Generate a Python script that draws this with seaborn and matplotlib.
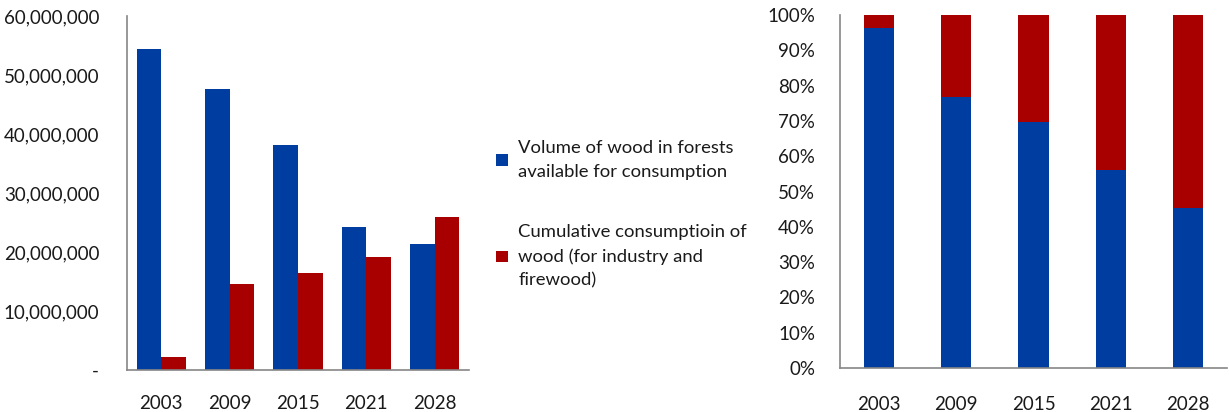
import numpy as np
import pandas as pd
import matplotlib
matplotlib.use("Agg")
import matplotlib.pyplot as plt
import seaborn as sns
from matplotlib.ticker import FuncFormatter

# ---- data ----
years = ["2003", "2009", "2015", "2021", "2028"]
volume = [54.4e6, 47.7e6, 38.1e6, 24.3e6, 21.4e6]
consumption = [2.15e6, 14.5e6, 16.5e6, 19.1e6, 25.9e6]
series_names = ["Volume of wood in forests\navailable for consumption",
                "Cumulative consumptioin of\nwood (for industry and\nfirewood)"]
left_ticks = [0, 10e6, 20e6, 30e6, 40e6, 50e6, 60e6]
right_ticks = [0, 10, 20, 30, 40, 50, 60, 70, 80, 90, 100]

BLUE = "#003DA0"
RED = "#A80000"
GRAY = "#868686"
TXT = "#1a1a1a"

sns.set_style("white")
plt.rcParams["font.family"] = ["Lato", "DejaVu Sans"]
plt.rcParams["font.size"] = 13.5

W, H = 1229, 412
fig = plt.figure(figsize=(W / 100, H / 100), dpi=100)

def rect(x0, y0, x1, y1):
    return [x0 / W, 1 - y1 / H, (x1 - x0) / W, (y1 - y0) / H]

ax1 = fig.add_axes(rect(127, 16, 469, 370))
ax2 = fig.add_axes(rect(840, 15, 1227, 368))

# ---- left: grouped bars ----
df = pd.DataFrame({
    "year": years * 2,
    "value": volume + consumption,
    "series": [series_names[0]] * len(years) + [series_names[1]] * len(years),
})
sns.barplot(data=df, x="year", y="value", hue="series", order=years,
            hue_order=series_names, palette=[BLUE, RED], saturation=1,
            width=0.72, gap=0, ax=ax1, errorbar=None, linewidth=0)
handles, labels = ax1.get_legend_handles_labels()
ax1.get_legend().remove()
ax1.set_ylim(0, 60e6)
ax1.set_yticks(left_ticks)
ax1.yaxis.set_major_formatter(FuncFormatter(lambda v, p: "-" if v == 0 else f"{v:,.0f}"))

# ---- right: 100% stacked ----
totals = [v + c for v, c in zip(volume, consumption)]
share_vol = [100 * v / t for v, t in zip(volume, totals)]
full = [100.0] * len(years)
sns.barplot(x=years, y=full, order=years, color=RED, saturation=1, width=0.39,
            ax=ax2, errorbar=None, linewidth=0)
sns.barplot(x=years, y=share_vol, order=years, color=BLUE, saturation=1, width=0.39,
            ax=ax2, errorbar=None, linewidth=0)
ax2.set_ylim(0, 100)
ax2.set_yticks(right_ticks)
ax2.yaxis.set_major_formatter(FuncFormatter(lambda v, p: f"{v:.0f}%"))

for ax, xpad, ypad, ylen in [(ax1, 18, 15, 5), (ax2, 20, 12, 6)]:
    ax.set_xlim(-0.5, len(years) - 0.5)
    ax.set_xlabel("")
    ax.set_ylabel("")
    for s in ["top", "right"]:
        ax.spines[s].set_visible(False)
    for s in ["left", "bottom"]:
        ax.spines[s].set_color(GRAY)
        ax.spines[s].set_linewidth(1.2)
    ax.set_xticks(np.arange(-0.5, len(years), 1), minor=True)
    ax.tick_params(axis="x", which="major", length=0, pad=xpad, labelsize=13.5, colors=TXT)
    ax.tick_params(axis="x", which="minor", length=5, width=1.2, color=GRAY, direction="out")
    ax.tick_params(axis="y", which="major", length=ylen, width=1.2, color=GRAY,
                   direction="out", pad=ypad, labelsize=13.5, labelcolor=TXT)
    ax.grid(False)

leg = fig.legend(handles, labels, loc="upper left", bbox_to_anchor=(496 / W, 1 - 140 / H),
                 frameon=False, fontsize=13.3, handlelength=0.65, handleheight=0.6,
                 handletextpad=0.55, labelspacing=2.4, borderaxespad=0, borderpad=0)
for t in leg.get_texts():
    t.set_linespacing(1.6)
    t.set_color(TXT)

fig.savefig("out.png", dpi=100)
